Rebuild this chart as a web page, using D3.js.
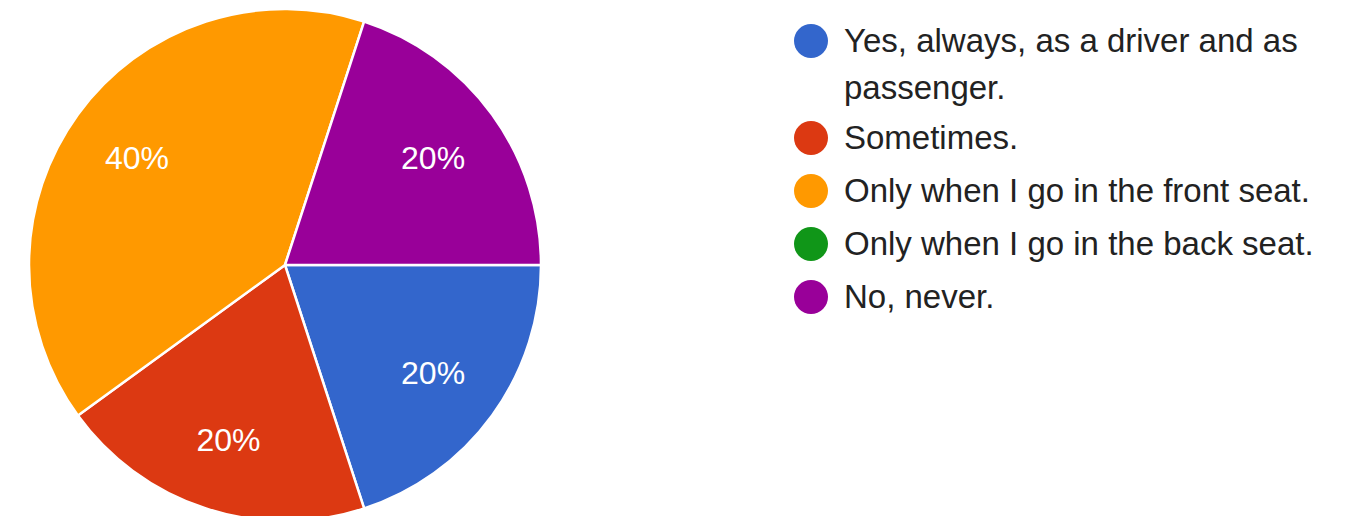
<!DOCTYPE html>
<html>
<head>
<meta charset="utf-8">
<script src="https://cdn.jsdelivr.net/npm/d3@7"></script>
<style>
  body { margin: 0; background: #fff; }
  svg { display: block; font-family: "Liberation Sans", Arial, sans-serif; }
</style>
</head>
<body>
<div id="pie_chart"></div>
<script>
// Data
var categories = [
  "Yes, always, as a driver and as passenger.",
  "Sometimes.",
  "Only when I go in the front seat.",
  "Only when I go in the back seat.",
  "No, never."
];
var counts = [1, 1, 2, 0, 1];
var sliceColors = ["#3366cc", "#dc3912", "#ff9900", "#109618", "#990099"];

var width = 1353, height = 516;
var cx = 285, cy = 265, radius = 256;

var svg = d3.select("#pie_chart")
  .append("svg")
    .attr("width", width)
    .attr("height", height);

var color = d3.scaleOrdinal()
  .domain(categories)
  .range(sliceColors);

var total = d3.sum(counts);
var tableData = categories.map(function(c, i) { return {name: c, value: counts[i]}; });

// pie starts at 3 o'clock, going clockwise, in legend order
var pie = d3.pie()
  .sort(null)
  .value(function(d) { return d.value; })
  .startAngle(Math.PI / 2)
  .endAngle(Math.PI / 2 + 2 * Math.PI);

var arc = d3.arc().innerRadius(0).outerRadius(radius);
var labelArc = d3.arc().innerRadius(radius * 0.715).outerRadius(radius * 0.715);

var g = svg.append("g")
  .attr("transform", "translate(" + cx + "," + cy + ")");

var arcs = pie(tableData).filter(function(d) { return d.data.value > 0; });

g.selectAll("path")
  .data(arcs)
  .enter()
  .append("path")
    .attr("d", arc)
    .style("fill", function(d) { return color(d.data.name); })
    .style("stroke", "#fff")
    .style("stroke-width", 2.5);

g.selectAll("text")
  .data(arcs)
  .enter()
  .append("text")
    .attr("transform", function(d) { return "translate(" + labelArc.centroid(d) + ")"; })
    .attr("text-anchor", "middle")
    .attr("dy", "0.36em")
    .style("fill", "#fff")
    .style("font-size", "32px")
    .text(function(d) { return Math.round(d.data.value / total * 100) + "%"; });

// Legend
var legendX = 811, legendTop = 41, lineH = 53, maxTextW = 490;
var legend = svg.append("g");
var yPos = legendTop;

categories.forEach(function(name, i) {
  var item = legend.append("g");
  item.append("circle")
    .attr("cx", legendX)
    .attr("cy", yPos)
    .attr("r", 17)
    .style("fill", color(name));

  var text = item.append("text")
    .attr("x", legendX + 33)
    .attr("y", yPos)
    .attr("dy", "0.33em")
    .style("font-size", "33px")
    .style("fill", "#222");

  // simple word wrap
  var words = name.split(" "), line = [], lines = 0;
  var tspan = text.append("tspan").attr("x", legendX + 33);
  words.forEach(function(w) {
    line.push(w);
    tspan.text(line.join(" "));
    if (tspan.node().getComputedTextLength() > maxTextW && line.length > 1) {
      line.pop();
      tspan.text(line.join(" "));
      line = [w];
      lines++;
      tspan = text.append("tspan")
        .attr("x", legendX + 33)
        .attr("dy", 47)
        .text(w);
    }
  });
  yPos += lineH + lines * 44;
});
</script>
</body>
</html>
